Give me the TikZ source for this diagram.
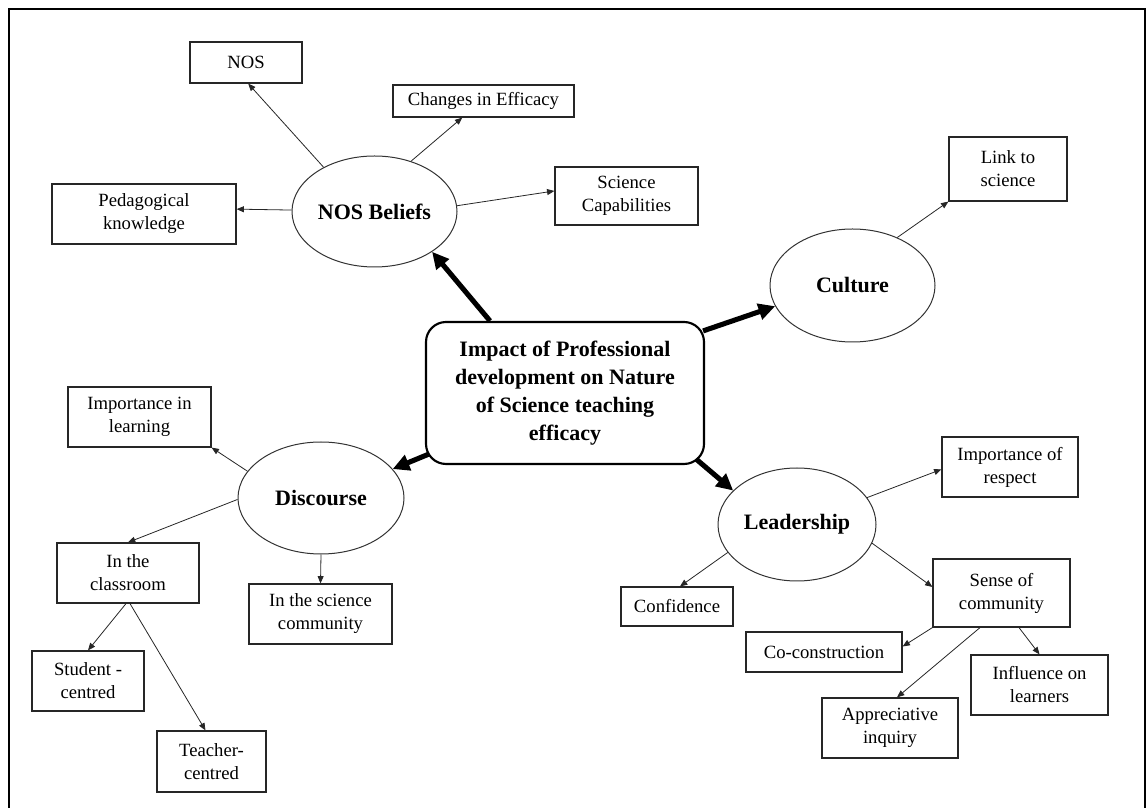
\documentclass[tikz,border=0pt]{standalone}
\usepackage{fontspec}
\setmainfont{Liberation Serif}
\usetikzlibrary{arrows.meta,shapes.geometric,calc}
\tikzset{
  >={Triangle[length=5.5pt,width=4.5pt]},
  box/.style={draw=black!85,line width=0.9pt,align=center,inner sep=2pt,
    font=\fontsize{14}{17.25}\selectfont},
  bubble/.style={ellipse,draw=black!80,line width=0.75pt,align=center,inner sep=1pt,
    font=\fontsize{16.5}{20}\selectfont\bfseries},
  hub/.style={draw,line width=1.6pt,rounded corners=15pt,align=center,
    font=\fontsize{16.5}{21}\selectfont\bfseries},
  branch/.style={->,line width=0.6pt,draw=black!85},
  spoke/.style={-{Triangle[length=12.5pt,width=12pt]},line width=3.8pt},
}

\begin{document}
\begin{tikzpicture}[x=0.75pt,y=0.75pt]
  \useasboundingbox (0,0) rectangle (1146,807);
  \draw[line width=1.5pt] (9,-10) -- (9,798) -- (1145,798) -- (1145,-10);

  \node[hub,minimum width=278*0.75pt,minimum height=142*0.75pt] (ctr) at (565,414)
    {Impact of Professional\\development on Nature\\of Science teaching\\efficacy};

  \foreach \n/\x/\y/\w/\h/\t in {
    nosb/374.5/595.5/165/111/NOS Beliefs,
    cult/852.5/521.5/165/113/Culture,
    disc/321/309/166/112/Discourse,
    lead/797/282.5/158/113/Leadership}
  {
    \node[bubble,minimum width=\w*0.75pt,minimum height=\h*0.75pt] (\n) at (\x,\y) {\t};
  }

  \foreach \n/\x/\y/\w/\h/\t in {
    nos/246/744.5/112/41/NOS,
    ped/144/593/184/60/Pedagogical\\knowledge,
    chg/483.5/706/181/32/Changes in Efficacy,
    scap/626.5/611/143/58/Science\\Capabilities,
    linksci/1008/638/118/64/Link to\\science,
    implearn/139.5/390/143/60/Importance in\\learning,
    room/128/234/142/60/In the\\classroom,
    scomm/320.5/193/143/60/In the science\\community,
    stud/88/126/112/60/Student -\\centred,
    teach/211.5/45.5/109/61/Teacher-\\centred,
    resp/1010/340/136/60/Importance of\\respect,
    sense/1001.5/214/137/68/Sense of\\community,
    conf/677/200.5/112/39/Confidence,
    cocon/824/155/156/40/Co-construction,
    infl/1039.5/122/137/60/Influence on\\learners,
    appr/890/79/136/60/Appreciative\\inquiry}
  {
    \node[box,minimum width=\w*0.75pt,minimum height=\h*0.75pt] (\n) at (\x,\y) {\t};
  }

  % hub to the four themes
  \draw[spoke] ($(ctr.north)+(-75,0)$) -- (nosb.-35);
  \draw[spoke] ($(ctr.north east)+(-2,-10)$) -- (cult.195);
  \draw[spoke] ($(ctr.south west)+(4,11)$) -- (disc.22);
  \draw[spoke] ($(ctr.south east)+(-9,6)$) -- (lead.152);

  % sub-themes
  \draw[branch] (nosb.139) -- (nos.276);
  \draw[branch] (nosb.179) -- (ped.3);
  \draw[branch] (nosb.54) -- (chg.218);
  \draw[branch] (nosb.4) -- (scap.176);
  \draw[branch] (cult.47) -- (linksci.south west);
  \draw[branch] (disc.160) -- (implearn.south east);
  \draw[branch] (disc.181) -- (room.north);
  \draw[branch] (disc.south) -- (scomm.north);
  \draw[branch] ($(room.south)+(-2,0)$) -- (stud.north);
  \draw[branch] ($(room.south)+(2,0)$) -- ($(teach.north)+(-6,0)$);
  \draw[branch] (lead.21) -- (resp.182);
  \draw[branch] (lead.-14) -- (sense.175);
  \draw[branch] (lead.202) -- ($(conf.north)+(3,0)$);
  \draw[branch] (sense.south west) -- (cocon.4);
  \draw[branch] ($(sense.south)+(-21.5,0)$) -- ($(appr.north)+(7,0)$);
  \draw[branch] ($(sense.south)+(17.5,0)$) -- (infl.north);
\end{tikzpicture}
\end{document}
